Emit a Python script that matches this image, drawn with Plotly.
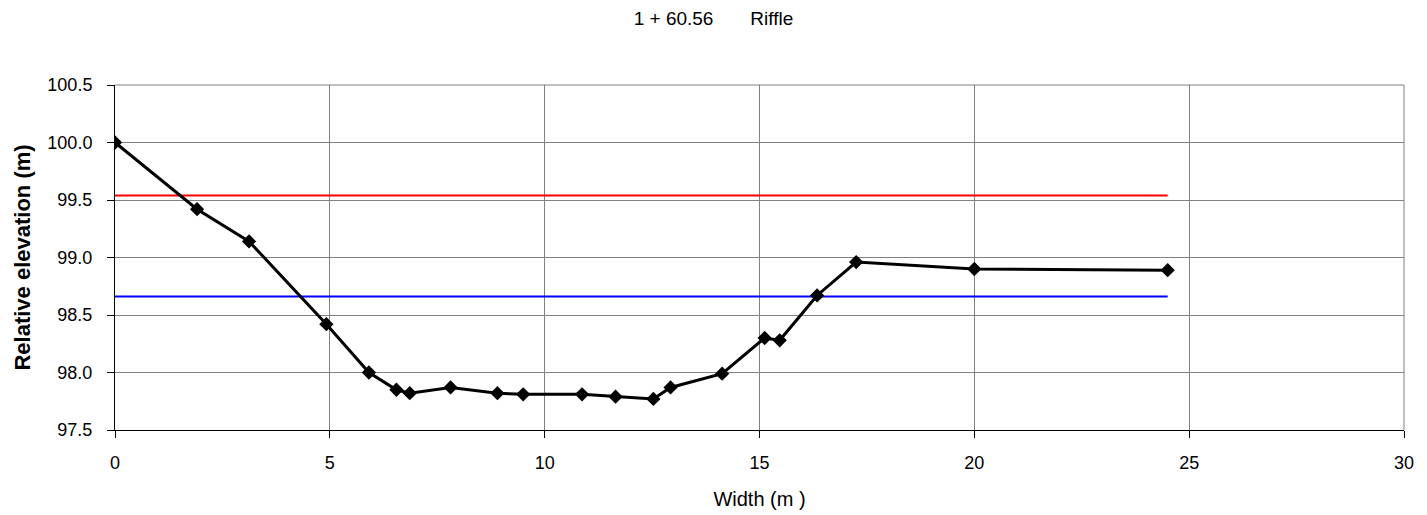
import plotly.graph_objects as go

# Cross-section survey: station 1 + 60.56, riffle
width_m = [0.0, 1.91, 3.12, 4.92, 5.91, 6.55, 6.86, 7.81, 8.9, 9.5,
           10.87, 11.65, 12.53, 12.93, 14.13, 15.12, 15.47, 16.34, 17.25, 20.0, 24.5]
elevation_m = [100.0, 99.42, 99.14, 98.42, 98.0, 97.85, 97.82, 97.87, 97.82, 97.81,
               97.81, 97.79, 97.77, 97.87, 97.99, 98.30, 98.28, 98.67, 98.96, 98.90, 98.89]

# Reference water levels spanning the section
level_x = [0.0, 24.5]
upper_level = [99.54, 99.54]
lower_level = [98.66, 98.66]

x_ticks = [0, 5, 10, 15, 20, 25, 30]
y_ticks = [97.5, 98.0, 98.5, 99.0, 99.5, 100.0, 100.5]

fig = go.Figure()
fig.add_trace(go.Scatter(x=level_x, y=upper_level, mode="lines",
                         line=dict(color="#ff0000", width=2), showlegend=False))
fig.add_trace(go.Scatter(x=level_x, y=lower_level, mode="lines",
                         line=dict(color="#0000ff", width=2), showlegend=False))
fig.add_trace(go.Scatter(x=width_m, y=elevation_m, mode="lines+markers",
                         line=dict(color="black", width=3),
                         marker=dict(symbol="diamond", size=11, color="black"),
                         showlegend=False))

font = dict(family="Arial, Liberation Sans, sans-serif", size=18, color="black")

fig.update_layout(
    width=1427, height=515,
    margin=dict(l=115, r=23, t=85, b=85),
    paper_bgcolor="white", plot_bgcolor="white",
    font=font,
    title=dict(text="1 + 60.56\u00a0\u00a0\u00a0\u00a0\u00a0\u00a0\u00a0Riffle",
               x=0.5, xref="container", xanchor="center",
               y=1 - 18 / 515, yref="container", yanchor="middle",
               font=dict(size=19)),
)

fig.update_xaxes(
    range=[0, 30], tickvals=x_ticks, ticktext=[str(v) for v in x_ticks],
    showgrid=True, gridcolor="#808080", gridwidth=1,
    showline=True, linecolor="black", linewidth=1,
    ticks="outside", ticklen=7, tickcolor="black",
    ticklabelstandoff=9,
    zeroline=False, automargin=False,
    title=dict(text="Width (m )", standoff=20, font=dict(size=20)),
)
fig.update_yaxes(
    range=[97.5, 100.5], tickvals=y_ticks, ticktext=[f"{v:.1f}" for v in y_ticks],
    showgrid=True, gridcolor="#808080", gridwidth=1,
    showline=True, linecolor="black", linewidth=1,
    ticks="outside", ticklen=7, tickcolor="black",
    ticklabelstandoff=11,
    zeroline=False, automargin=False,
    title=dict(text="<b>Relative elevation (m)</b>", standoff=10),
)

# light frame on the top and right edges of the plotting area
fig.add_shape(type="line", xref="paper", yref="paper", x0=0, x1=1, y0=1, y1=1,
              line=dict(color="#808080", width=1))
fig.add_shape(type="line", xref="paper", yref="paper", x0=1, x1=1, y0=0, y1=1,
              line=dict(color="#808080", width=1))

fig.write_html("out.html")
